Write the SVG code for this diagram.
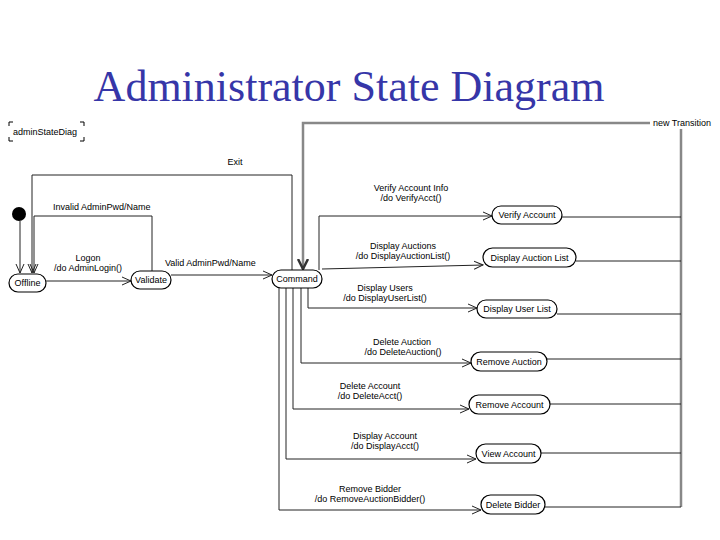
<svg xmlns="http://www.w3.org/2000/svg" width="720" height="540" viewBox="0 0 720 540">
<style>
  .t{font-family:"Liberation Sans",Arial,sans-serif;font-size:9px;fill:#000}
  .m{text-anchor:middle}
  .st{fill:#fff;stroke:#000;stroke-width:1.2}
  .c{fill:none;stroke:#222;stroke-width:1}
  .g{fill:none;stroke:#888;stroke-width:2.5}
  .title{font-family:"Liberation Serif","Times New Roman",serif;font-size:44px;fill:#3636a8;text-anchor:middle}
</style>
<defs>
  <marker id="a" markerWidth="10" markerHeight="10" refX="9" refY="5" orient="auto" markerUnits="userSpaceOnUse">
    <path d="M0,1 L9,5 L0,9" fill="none" stroke="#222" stroke-width="1"/>
  </marker>
  <marker id="ab" markerWidth="12" markerHeight="12" refX="10" refY="6" orient="auto" markerUnits="userSpaceOnUse">
    <path d="M0,1 L10,6 L0,11" fill="none" stroke="#333" stroke-width="2.5"/>
  </marker>
</defs>
<rect width="720" height="540" fill="#fff"/>
<text class="title" x="349" y="101">Administrator State Diagram</text>

<g id="frame">
  <path d="M9,126 V122 H13 M80,122 H84 V126 M9,137 V141 H13 M80,141 H84 V137" fill="none" stroke="#000" stroke-width="1"/>
  <text class="t" x="13" y="135">adminStateDiag</text>
</g>

<g id="connectors">
  <path class="c" d="M20,221 V273" marker-end="url(#a)"/>
  <path class="c" d="M292,270 V175 H32 V273" marker-end="url(#a)"/>
  <path class="c" d="M152,271 V216 H34 V273" marker-end="url(#a)"/>
  <path class="c" d="M46,281 H131" marker-end="url(#a)"/>
  <path class="c" d="M171,275 H272" marker-end="url(#a)"/>
  <path class="g" d="M650,123 H303 V269" marker-end="url(#ab)"/>
  <path class="g" d="M681,129 V507"/>
  <path class="c" d="M319,270 V216 H492" marker-end="url(#a)"/>
  <path class="c" d="M322,269 L483,265" marker-end="url(#a)"/>
  <path class="c" d="M308,288 V308 H477" marker-end="url(#a)"/>
  <path class="c" d="M301,288 V363 H471" marker-end="url(#a)"/>
  <path class="c" d="M293,288 V409 H469" marker-end="url(#a)"/>
  <path class="c" d="M286,288 V459 H476" marker-end="url(#a)"/>
  <path class="c" d="M279,288 V510 H481" marker-end="url(#a)"/>
  <path class="c" d="M562,217 H681"/>
  <path class="c" d="M576,261 H681"/>
  <path class="c" d="M557,314 H681"/>
  <path class="c" d="M547,359 H681"/>
  <path class="c" d="M550,404 H681"/>
  <path class="c" d="M541,453 H681"/>
  <path class="c" d="M545,507 H681"/>
</g>

<g id="labels">
  <text class="t" x="235" y="165" text-anchor="middle">Exit</text>
  <text class="t" x="53" y="210">Invalid AdminPwd/Name</text>
  <text class="t m" x="88" y="261">Logon</text>
  <text class="t m" x="88" y="271">/do AdminLogin()</text>
  <text class="t" x="165" y="266">Valid AdminPwd/Name</text>
  <text class="t" x="653" y="126">new Transition</text>
  <text class="t m" x="411" y="191">Verify Account Info</text>
  <text class="t m" x="411" y="201">/do VerifyAcct()</text>
  <text class="t m" x="403" y="249">Display Auctions</text>
  <text class="t m" x="403" y="259">/do DisplayAuctionList()</text>
  <text class="t m" x="385" y="291">Display Users</text>
  <text class="t m" x="385" y="301">/do DisplayUserList()</text>
  <text class="t m" x="402" y="345">Delete Auction</text>
  <text class="t m" x="403" y="355">/do DeleteAuction()</text>
  <text class="t m" x="370" y="389">Delete Account</text>
  <text class="t m" x="370" y="399">/do DeleteAcct()</text>
  <text class="t m" x="385" y="439">Display Account</text>
  <text class="t m" x="385" y="449">/do DisplayAcct()</text>
  <text class="t m" x="370" y="492">Remove Bidder</text>
  <text class="t m" x="370" y="502">/do RemoveAuctionBidder()</text>
</g>

<g id="initial"><circle cx="19" cy="214" r="7" fill="#000"/></g>
<g id="offline"><rect class="st" x="9" y="274" width="37" height="18" rx="9"/><text class="t m" x="27.5" y="286">Offline</text></g>
<g id="validate"><rect class="st" x="131" y="271" width="40" height="18" rx="9"/><text class="t m" x="151" y="283">Validate</text></g>
<g id="command"><rect class="st" x="272" y="270" width="50" height="18" rx="9"/><text class="t m" x="297" y="282">Command</text></g>
<g id="verify"><rect class="st" x="492" y="206" width="70" height="18" rx="9"/><text class="t m" x="527" y="218">Verify Account</text></g>
<g id="auctionlist"><rect class="st" x="483" y="248" width="93" height="19" rx="9.5"/><text class="t m" x="529.5" y="260.5">Display Auction List</text></g>
<g id="userlist"><rect class="st" x="477" y="300" width="80" height="18" rx="9"/><text class="t m" x="517" y="312">Display User List</text></g>
<g id="removeauction"><rect class="st" x="471" y="352" width="76" height="19" rx="9.5"/><text class="t m" x="509" y="364.5">Remove Auction</text></g>
<g id="removeaccount"><rect class="st" x="469" y="395" width="81" height="19" rx="9.5"/><text class="t m" x="509.5" y="407.5">Remove Account</text></g>
<g id="viewaccount"><rect class="st" x="476" y="444" width="65" height="19" rx="9.5"/><text class="t m" x="508.5" y="456.5">View Account</text></g>
<g id="deletebidder"><rect class="st" x="481" y="495" width="64" height="19" rx="9.5"/><text class="t m" x="513" y="507.5">Delete Bidder</text></g>
</svg>
